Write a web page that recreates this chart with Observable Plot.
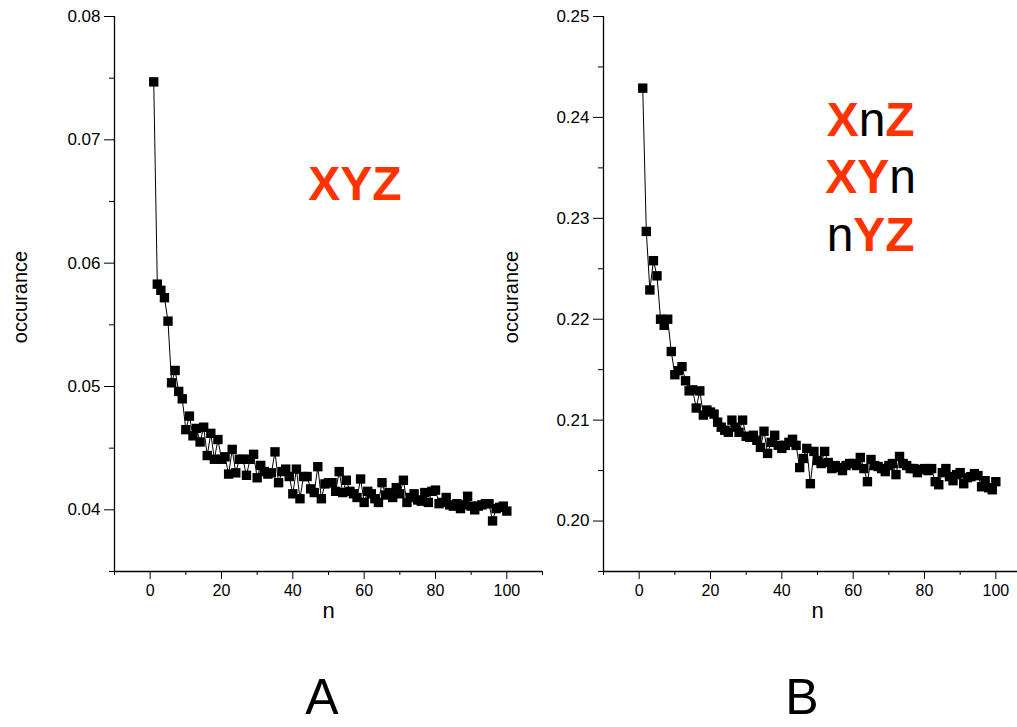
<!DOCTYPE html>
<html><head><meta charset="utf-8">
<script src="https://cdn.jsdelivr.net/npm/d3@7"></script>
<script src="https://cdn.jsdelivr.net/npm/@observablehq/plot@0.6"></script>
<style>
html,body{margin:0;padding:0;background:#fff;overflow:hidden;}
#wrap{position:relative;width:1017px;height:727px;overflow:hidden;background:#fff;}
.panel{position:absolute;top:0;}
.cap{position:absolute;top:672px;font-family:"Liberation Sans Narrow","Liberation Sans",Arial,sans-serif;font-size:50px;line-height:1;transform:translateX(-50%);color:#000;}
</style></head><body><div id="wrap"></div>
<script>
// x categories: n = 1..100
const nValues = d3.range(1, 101);

// Panel A: XYZ occurrence
const occA = [
0.0747,0.0583,0.0578,0.0572,0.0553,0.0503,0.0513,0.0496,0.0490,0.0465,
0.0476,0.0460,0.0466,0.0455,0.0467,0.0444,0.0462,0.0441,0.0457,0.0441,
0.0443,0.0429,0.0449,0.0430,0.0441,0.0441,0.0428,0.0441,0.0445,0.0426,
0.0436,0.0431,0.0429,0.0430,0.0447,0.0422,0.0431,0.0433,0.0427,0.0413,
0.0433,0.0409,0.0427,0.0427,0.0417,0.0414,0.0435,0.0409,0.0421,0.0422,
0.0422,0.0415,0.0431,0.0414,0.0424,0.0415,0.0413,0.0410,0.0425,0.0406,
0.0415,0.0413,0.0409,0.0406,0.0422,0.0412,0.0414,0.0410,0.0418,0.0413,
0.0424,0.0406,0.0410,0.0413,0.0408,0.0407,0.0414,0.0406,0.0415,0.0416,
0.0405,0.0406,0.0410,0.0404,0.0403,0.0405,0.0401,0.0404,0.0411,0.0403,
0.0400,0.0403,0.0404,0.0405,0.0405,0.0391,0.0401,0.0402,0.0403,0.0399
];

// Panel B: XnZ / XYn / nYZ occurrence
const occB = [
0.2429,0.2287,0.2229,0.2258,0.2243,0.2200,0.2194,0.2200,0.2168,0.2145,
0.2149,0.2153,0.2139,0.2129,0.2130,0.2112,0.2129,0.2105,0.2110,0.2108,
0.2106,0.2098,0.2093,0.2090,0.2088,0.2100,0.2093,0.2088,0.2100,0.2084,
0.2083,0.2085,0.2080,0.2073,0.2089,0.2067,0.2078,0.2085,0.2075,0.2072,
0.2075,0.2078,0.2081,0.2075,0.2053,0.2062,0.2072,0.2037,0.2069,0.2060,
0.2057,0.2069,0.2058,0.2052,0.2055,0.2053,0.2050,0.2055,0.2057,0.2057,
0.2055,0.2063,0.2052,0.2039,0.2061,0.2055,0.2054,0.2052,0.2049,0.2055,
0.2057,0.2046,0.2064,0.2057,0.2055,0.2052,0.2052,0.2048,0.2051,0.2052,
0.2050,0.2052,0.2039,0.2036,0.2048,0.2052,0.2044,0.2040,0.2046,0.2048,
0.2037,0.2043,0.2044,0.2047,0.2045,0.2034,0.2040,0.2033,0.2031,0.2039
];

// ticks
const xDomain = [-10, 110];
const xMajor = [0, 20, 40, 60, 80, 100];
const xMinor = [-10, 10, 30, 50, 70, 90, 110];
const yDomainA = [0.035, 0.08];
const yMajorA = [0.04, 0.05, 0.06, 0.07, 0.08];
const yMinorA = [0.035, 0.045, 0.055, 0.065, 0.075];
const yDomainB = [0.195, 0.25];
const yMajorB = [0.20, 0.21, 0.22, 0.23, 0.24, 0.25];
const yMinorB = [0.195, 0.205, 0.215, 0.225, 0.235, 0.245];

// annotation labels (data coords)
const labelsA = [{n: 57.4, v: 0.0664, t: "XYZ"}];
const labelsB = [
  {n: 64.9, v: 0.2397, t: "XnZ"},
  {n: 64.9, v: 0.2340, t: "XYn"},
  {n: 64.9, v: 0.2283, t: "nYZ"}
];
const captions = ["A", "B"];

const RED = "#ff3300";
const narrow = "'Liberation Sans Narrow', 'Liberation Sans', Arial, sans-serif";

function panel(values, yDomain, yMajor, yMinor, labels, left, ylabDx) {
  const data = nValues.map((n, i) => ({n, v: values[i]}));
  const chart = Plot.plot({
    width: left === 0 ? 560 : 551,
    height: 640,
    marginLeft: left === 0 ? 114 : 113,
    marginRight: left === 0 ? 18 : 10,
    marginTop: 16,
    marginBottom: 69,
    style: {fontFamily: "'Liberation Sans', Arial, sans-serif", fontSize: "15px", background: "transparent", overflow: "visible", color: "black"},
    x: {domain: xDomain, label: null},
    y: {domain: yDomain, label: null},
    marks: [
      Plot.ruleY([yDomain[0]], {stroke: "black", strokeWidth: 1.3}),
      Plot.ruleX([xDomain[0]], {stroke: "black", strokeWidth: 1.3}),
      Plot.axisY({ticks: yMinor, tickSize: 5, tickFormat: () => "", label: null}),
      Plot.axisY({ticks: yMajor, tickSize: 10, tickPadding: 4, tickFormat: d3.format(".2f"), fontSize: 17, label: null}),
      Plot.axisX({ticks: xMinor, tickSize: 4, tickFormat: () => "", label: null}),
      Plot.axisX({ticks: xMajor, tickSize: 8, tickPadding: 5, fontSize: 16, fontFamily: narrow, label: null}),
      Plot.line(data, {x: "n", y: "v", stroke: "black", strokeWidth: 1}),
      Plot.dot(data, {x: "n", y: "v", symbol: "square", r: 5.3, fill: "black"}),
      Plot.text(["occurance"], {frameAnchor: "left", textAnchor: "middle", rotate: -90, dx: ylabDx, dy: 3, fontSize: 20}),
      Plot.text(["n"], {frameAnchor: "bottom", dy: 46, fontSize: 22, fontFamily: narrow}),
      Plot.text(labels, {x: "n", y: "v", text: "t", fontSize: 48, fontWeight: "bold", fill: RED})
    ]
  });
  // mixed styling for annotation letters: "n" is regular black, others bold red
  const names = new Set(labels.map(d => d.t));
  chart.querySelectorAll("text").forEach(el => {
    const s = el.textContent;
    if (!names.has(s) || el.childElementCount > 0) return;
    el.textContent = "";
    for (const ch of s) {
      const ts = document.createElementNS("http://www.w3.org/2000/svg", "tspan");
      ts.textContent = ch;
      if (ch === "n") {
        ts.setAttribute("fill", "black");
        ts.setAttribute("font-weight", "normal");
      } else {
        ts.setAttribute("fill", RED);
        ts.setAttribute("font-weight", "bold");
      }
      el.appendChild(ts);
    }
  });
  chart.classList.add("panel");
  chart.style.left = left + "px";
  chart.style.position = "absolute";
  return chart;
}

const wrap = document.getElementById("wrap");
wrap.appendChild(panel(occA, yDomainA, yMajorA, yMinorA, labelsA, 0, -94));
wrap.appendChild(panel(occB, yDomainB, yMajorB, yMinorB, labelsB, 490, -92));

const capX = [322, 802];
captions.forEach((c, i) => {
  const d = document.createElement("div");
  d.className = "cap";
  d.style.left = capX[i] + "px";
  d.textContent = c;
  wrap.appendChild(d);
});
</script>
</body></html>
